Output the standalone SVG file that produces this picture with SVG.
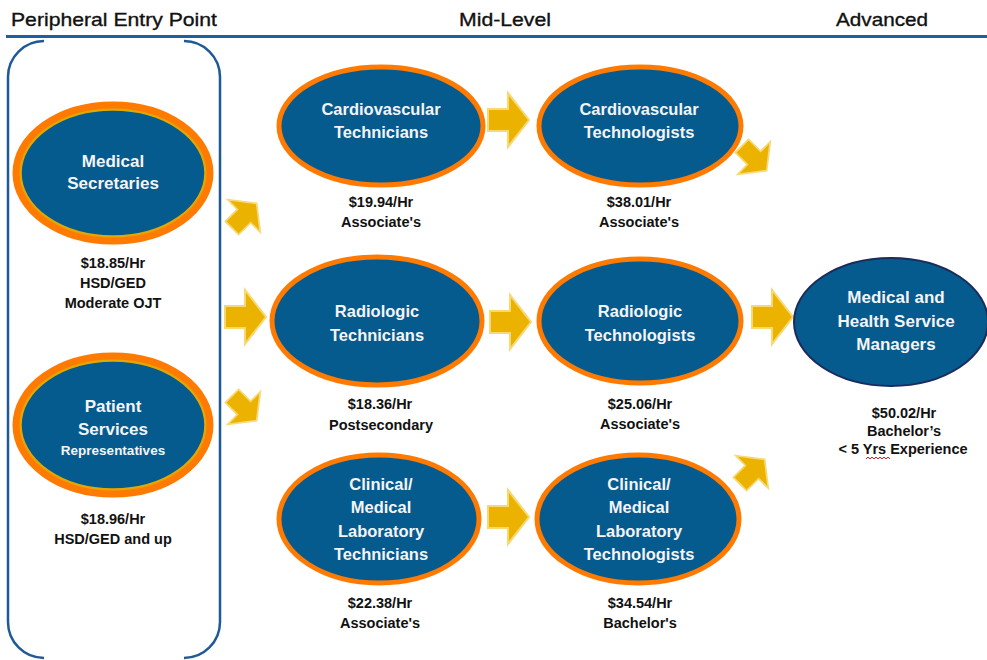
<svg xmlns="http://www.w3.org/2000/svg" xmlns:xlink="http://www.w3.org/1999/xlink" width="987" height="660" viewBox="0 0 987 660">
<style>
.hdr{font-family:"Liberation Sans",Arial,sans-serif;font-size:19px;fill:#111;stroke:#111;stroke-width:0.35;text-anchor:middle}
.nt{font-family:"Liberation Sans",Arial,sans-serif;font-weight:bold;font-size:16.5px;fill:#f4f4f4;text-anchor:middle}
.ns{font-family:"Liberation Sans",Arial,sans-serif;font-weight:bold;font-size:13.5px;fill:#f4f4f4;text-anchor:middle}
.info{font-family:"Liberation Sans",Arial,sans-serif;font-weight:bold;font-size:14.5px;fill:#111;text-anchor:middle}
.body{fill:#055a8e}
.ring1{fill:none;stroke:#ff7a00;stroke-width:7}
.ring2{fill:none;stroke:#e3a800;stroke-width:3.5}
.ringm{fill:none;stroke:#ff7a00;stroke-width:5}
.brk{fill:none;stroke:#1f5a96;stroke-width:2.5}
.arw{fill:#ebb300;stroke:#f7d872;stroke-width:2;stroke-linejoin:miter}
</style>
<defs>
<path id="arr" class="arw" d="M-20,-11 H0 V-27 L21,0 L0,27 V11 H-20 Z"/>
</defs>
<rect width="987" height="660" fill="#fff"/>

<g id="headers">
<text class="hdr" x="114" y="26" textLength="206" lengthAdjust="spacingAndGlyphs">Peripheral Entry Point</text>
<text class="hdr" x="505" y="26" textLength="92" lengthAdjust="spacingAndGlyphs">Mid-Level</text>
<text class="hdr" x="882" y="26" textLength="92" lengthAdjust="spacingAndGlyphs">Advanced</text>
<line x1="6" y1="36.5" x2="987" y2="36.5" stroke="#1f5f9a" stroke-width="3"/>
</g>

<g id="entry-bracket">
<path class="brk" d="M44,41 A36,36 0 0 0 8,77 L8,622 A36,36 0 0 0 44,658"/>
<path class="brk" d="M184,41 A36,36 0 0 1 220,77 L220,622 A36,36 0 0 1 184,658"/>
</g>

<g id="connectors">
<use xlink:href="#arr" transform="translate(244,216) rotate(-45) scale(0.85)"/>
<use xlink:href="#arr" transform="translate(245,317)"/>
<use xlink:href="#arr" transform="translate(244,408) rotate(45) scale(0.85)"/>
<use xlink:href="#arr" transform="translate(508,120)"/>
<use xlink:href="#arr" transform="translate(510,322)"/>
<use xlink:href="#arr" transform="translate(508,517)"/>
<use xlink:href="#arr" transform="translate(754,158) rotate(45) scale(0.85)"/>
<use xlink:href="#arr" transform="translate(772,317)"/>
<use xlink:href="#arr" transform="translate(752,472) rotate(-45) scale(0.85)"/>
</g>

<g id="medical-secretaries">
<ellipse class="body" cx="113" cy="173" rx="97" ry="68"/>
<ellipse class="ring2" cx="113" cy="173" rx="93" ry="64"/>
<ellipse class="ring1" cx="113" cy="173" rx="97" ry="68"/>
<text class="nt" x="113" y="167" style="font-size:17px">Medical</text>
<text class="nt" x="113" y="189" style="font-size:17px">Secretaries</text>
<text class="info" x="113" y="268">$18.85/Hr</text>
<text class="info" x="113" y="288">HSD/GED</text>
<text class="info" x="113" y="308">Moderate OJT</text>
</g>

<g id="patient-services">
<ellipse class="body" cx="113" cy="425" rx="97" ry="69"/>
<ellipse class="ring2" cx="113" cy="425" rx="93" ry="65"/>
<ellipse class="ring1" cx="113" cy="425" rx="97" ry="69"/>
<text class="nt" x="113" y="412" style="font-size:17px">Patient</text>
<text class="nt" x="113" y="435" style="font-size:17px">Services</text>
<text class="ns" x="113" y="455">Representatives</text>
<text class="info" x="113" y="524">$18.96/Hr</text>
<text class="info" x="113" y="544">HSD/GED and up</text>
</g>

<g id="cardio-technicians">
<ellipse class="body ringm" cx="381" cy="126" rx="102" ry="59" style="fill:#055a8e"/>
<text class="nt" x="381" y="115">Cardiovascular</text>
<text class="nt" x="381" y="138">Technicians</text>
<text class="info" x="381" y="207">$19.94/Hr</text>
<text class="info" x="381" y="227">Associate's</text>
</g>

<g id="cardio-technologists">
<ellipse class="body ringm" cx="640" cy="126" rx="101" ry="59" style="fill:#055a8e"/>
<text class="nt" x="639" y="115">Cardiovascular</text>
<text class="nt" x="639" y="138">Technologists</text>
<text class="info" x="639" y="207">$38.01/Hr</text>
<text class="info" x="639" y="227">Associate's</text>
</g>

<g id="radiologic-technicians">
<ellipse class="body ringm" cx="377" cy="321" rx="105" ry="64" style="fill:#055a8e"/>
<text class="nt" x="377" y="317">Radiologic</text>
<text class="nt" x="377" y="341">Technicians</text>
<text class="info" x="380" y="409">$18.36/Hr</text>
<text class="info" x="381" y="430">Postsecondary</text>
</g>

<g id="radiologic-technologists">
<ellipse class="body ringm" cx="640" cy="321" rx="101" ry="62" style="fill:#055a8e"/>
<text class="nt" x="640" y="317">Radiologic</text>
<text class="nt" x="640" y="341">Technologists</text>
<text class="info" x="640" y="409">$25.06/Hr</text>
<text class="info" x="640" y="429">Associate's</text>
</g>

<g id="health-service-managers">
<ellipse cx="891" cy="322" rx="97" ry="64" fill="#055a8e" stroke="#1b2b5c" stroke-width="2"/>
<text class="nt" x="896" y="303" style="font-size:17px">Medical and</text>
<text class="nt" x="896" y="327" style="font-size:17px">Health Service</text>
<text class="nt" x="896" y="350" style="font-size:17px">Managers</text>
<text class="info" x="904" y="418">$50.02/Hr</text>
<text class="info" x="904" y="436">Bachelor’s</text>
<text class="info" x="903" y="454">&lt; 5 Yrs Experience</text>
<path d="M866,459 l2,-2 l2,2 l2,-2 l2,2 l2,-2 l2,2 l2,-2 l2,2 l2,-2 l2,2 l2,-2 l2,2" fill="none" stroke="#e02020" stroke-width="1"/>
</g>

<g id="clinical-lab-technicians">
<ellipse class="body ringm" cx="379" cy="519" rx="100" ry="64" style="fill:#055a8e"/>
<text class="nt" x="381" y="490">Clinical/</text>
<text class="nt" x="381" y="513">Medical</text>
<text class="nt" x="381" y="537">Laboratory</text>
<text class="nt" x="381" y="560">Technicians</text>
<text class="info" x="380" y="608">$22.38/Hr</text>
<text class="info" x="380" y="628">Associate's</text>
</g>

<g id="clinical-lab-technologists">
<ellipse class="body ringm" cx="638" cy="519" rx="101" ry="64" style="fill:#055a8e"/>
<text class="nt" x="639" y="490">Clinical/</text>
<text class="nt" x="639" y="513">Medical</text>
<text class="nt" x="639" y="537">Laboratory</text>
<text class="nt" x="639" y="560">Technologists</text>
<text class="info" x="640" y="608">$34.54/Hr</text>
<text class="info" x="640" y="628">Bachelor's</text>
</g>
</svg>
